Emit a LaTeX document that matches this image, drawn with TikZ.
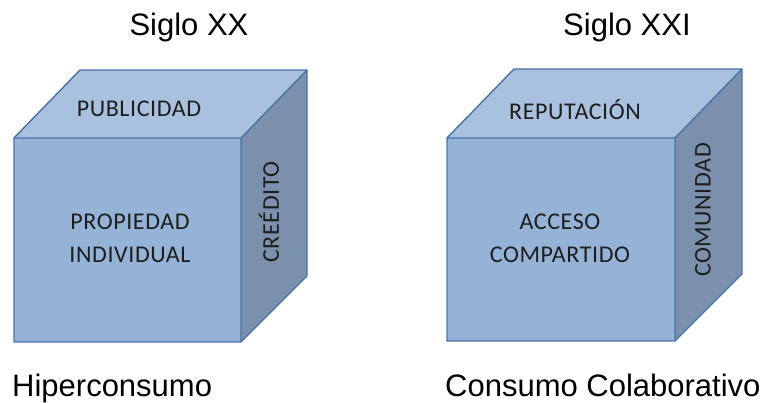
\documentclass[tikz,border=0pt]{standalone}
\usepackage{fontspec}
\setmainfont{Liberation Sans}
\newfontfamily\facefont[LetterSpace=2.5]{Carlito}
\definecolor{frontblue}{HTML}{95B3D7}
\definecolor{topblue}{HTML}{A9C1DF}
\definecolor{sideblue}{HTML}{7B90AC}
\definecolor{edgeblue}{HTML}{4A72A6}
\definecolor{facetext}{HTML}{1E1E1E}
\tikzset{
  face/.style={draw=edgeblue, line width=1.4pt, line join=round},
  facelabel/.style={font=\facefont\fontsize{24}{33}\selectfont, text=facetext, align=center, inner sep=0pt},
  caption/.style={font=\fontsize{31}{36}\selectfont, text=black, inner sep=0pt, anchor=base}
}
\begin{document}
\begin{tikzpicture}[x=1pt, y=-1pt]
\useasboundingbox (0,0) rectangle (769,403);

% --- twentieth-century cube ---
\coordinate (a1) at (14,138);   \coordinate (b1) at (241,138);
\coordinate (c1) at (241,342);  \coordinate (d1) at (14,342);
\coordinate (e1) at (80,70);    \coordinate (f1) at (307,70);
\coordinate (g1) at (307,276);
\fill[frontblue] (a1) -- (b1) -- (c1) -- (d1) -- cycle;
\fill[topblue] (a1) -- (e1) -- (f1) -- (b1) -- cycle;
\fill[sideblue] (b1) -- (f1) -- (g1) -- (c1) -- cycle;
\draw[face] (a1) -- (e1) -- (f1) -- (g1) -- (c1) -- (d1) -- cycle;
\draw[face] (a1) -- (b1) -- (c1) (b1) -- (f1);

\node[facelabel] (pub) at (139,109) {PUBLICIDAD};
\node[facelabel] (prop) at (130,238) {PROPIEDAD\\INDIVIDUAL};
\node[facelabel, rotate=90] (cred) at (269,212) {CREÉDITO};

% --- twenty-first-century cube ---
\coordinate (a2) at (447,138);  \coordinate (b2) at (675,138);
\coordinate (c2) at (675,341);  \coordinate (d2) at (447,341);
\coordinate (e2) at (514,69);   \coordinate (f2) at (742,69);
\coordinate (g2) at (742,274);
\fill[frontblue] (a2) -- (b2) -- (c2) -- (d2) -- cycle;
\fill[topblue] (a2) -- (e2) -- (f2) -- (b2) -- cycle;
\fill[sideblue] (b2) -- (f2) -- (g2) -- (c2) -- cycle;
\draw[face] (a2) -- (e2) -- (f2) -- (g2) -- (c2) -- (d2) -- cycle;
\draw[face] (a2) -- (b2) -- (c2) (b2) -- (f2);

\node[facelabel] (rep) at (575,110) {REPUTACIÓN};
\node[facelabel] (acc) at (560,238) {ACCESO\\COMPARTIDO};
\node[facelabel, rotate=90] (com) at (703,210) {COMUNIDAD};

% --- captions ---
\node[caption] (s20) at (189,36) {Siglo XX};
\node[caption] (s21) at (627,36) {Siglo XXI};
\node[caption, anchor=base west] (hip) at (12,397) {Hiperconsumo};
\node[caption, anchor=base west] (col) at (445,397) {Consumo Colaborativo};
\end{tikzpicture}
\end{document}
